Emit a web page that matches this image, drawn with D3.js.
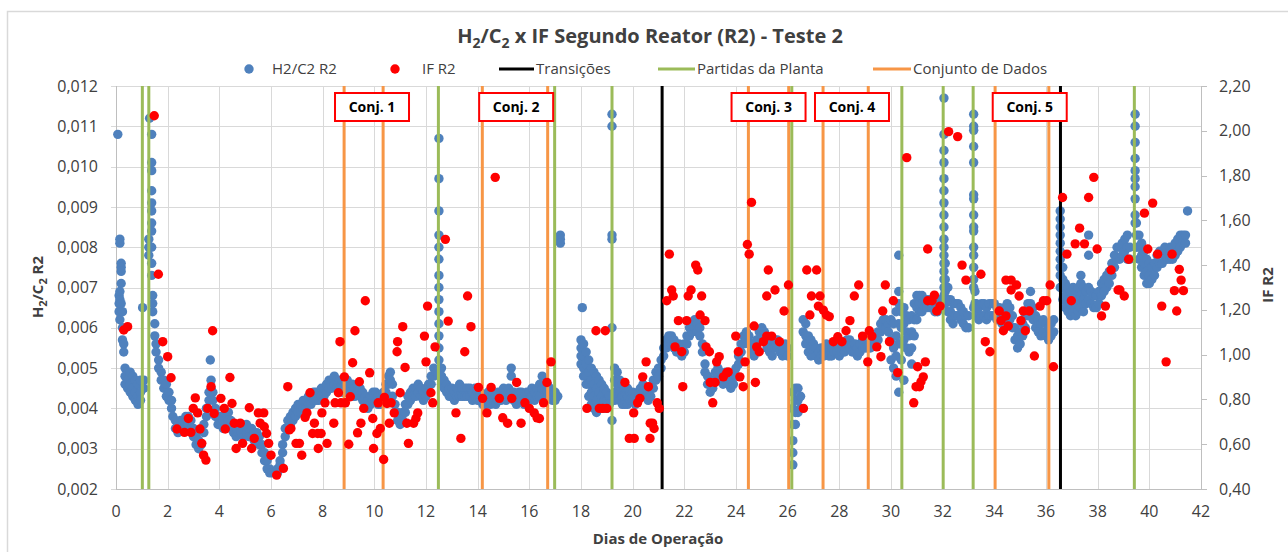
<!DOCTYPE html>
<html>
<head>
  <meta charset="utf-8">
  <script src="https://cdnjs.cloudflare.com/ajax/libs/d3/7.8.5/d3.min.js"></script>
  <style>
    body { margin: 0; background: #fff; }
    svg text { font-family: "Open Sans", "Noto Sans", sans-serif; fill: #404040; }
  </style>
</head>
<body>
  <svg></svg>
  <script>
    // H2/C2 readings, [day, value, value, ...] in units of 1e-3
    var h2c2Rows = [
      [0.07, 10.8], [0.12, 6.8, 6.6, 6.4], [0.15, 8.2, 8.1, 6.9, 6.7, 6.2], [0.2, 7.6, 7.5, 7.4, 7.1, 6.6],
      [0.25, 6.4, 6.0, 5.7], [0.3, 5.6, 5.4], [0.35, 5.0, 4.8, 4.6], [0.45, 4.9, 4.7, 4.5], [0.55, 4.9, 4.6, 4.4],
      [0.65, 4.8, 4.5, 4.3], [0.75, 4.7, 4.4, 4.2], [0.85, 4.6, 4.3, 4.1], [0.95, 4.7, 4.4, 4.2], [1.03, 6.5],
      [1.08, 4.7, 4.5], [1.27, 8.2, 8.0, 7.8], [1.3, 11.2],
      [1.38, 10.8, 10.1, 9.9, 9.4, 9.1, 8.9, 8.6, 8.4, 8.0, 7.6, 7.3], [1.42, 6.8, 6.6, 6.4], [1.5, 6.1, 5.8],
      [1.55, 5.6, 5.4], [1.65, 5.2, 5.0], [1.75, 4.9, 4.7], [1.85, 4.7, 4.5], [1.95, 4.6, 4.3], [2.05, 4.4, 4.2],
      [2.15, 4.2, 4.0], [2.2, 3.8], [2.3, 3.7, 3.5], [2.4, 3.6, 3.4], [2.5, 3.7, 3.5], [2.6, 3.7, 3.5],
      [2.7, 3.8, 3.6], [2.8, 3.8, 3.6], [2.9, 3.7, 3.5], [3.0, 3.5, 3.3], [3.1, 3.3, 3.1], [3.2, 3.2, 3.0],
      [3.3, 3.1], [3.4, 3.4, 3.6], [3.5, 3.8, 4.0], [3.6, 4.2, 4.4], [3.65, 5.2], [3.68, 4.7, 4.5],
      [3.75, 4.4, 4.2], [3.85, 4.0, 3.8], [3.95, 3.8, 3.6], [4.05, 3.8, 3.6], [4.15, 3.7, 3.5], [4.25, 3.9, 3.7],
      [4.35, 3.9, 3.7], [4.45, 3.7, 3.5], [4.55, 3.6, 3.4], [4.65, 3.5, 3.3], [4.75, 3.6, 3.4], [4.85, 3.6, 3.4],
      [4.95, 3.5, 3.3], [5.05, 3.6, 3.4], [5.15, 3.5, 3.3], [5.25, 3.5, 3.3], [5.35, 3.4, 3.2], [5.45, 3.4, 3.2],
      [5.55, 3.3, 3.1], [5.65, 3.1, 2.9], [5.75, 2.9, 2.7], [5.85, 2.7, 2.5], [5.95, 2.5, 2.4], [6.05, 2.4],
      [6.15, 2.4], [6.25, 2.5, 2.4], [6.35, 2.7, 2.6], [6.45, 3.1, 2.9], [6.55, 3.5, 3.3], [6.65, 3.7, 3.5],
      [6.75, 3.8, 3.6], [6.85, 3.9, 3.7], [6.95, 4.0, 3.8], [7.05, 4.1, 3.9], [7.15, 4.1, 3.9], [7.25, 4.2, 4.0],
      [7.35, 4.2, 4.0], [7.45, 4.3, 4.1], [7.55, 4.3, 4.1], [7.65, 4.4, 4.2], [7.75, 4.4, 4.2], [7.85, 4.4, 4.2],
      [7.95, 4.5, 4.3], [8.05, 4.5, 4.3], [8.15, 4.6, 4.4], [8.25, 4.7, 4.5], [8.35, 4.7, 4.5], [8.45, 4.8, 4.6],
      [8.55, 4.7, 4.5], [8.65, 4.7, 4.5], [8.75, 4.7, 4.4], [8.85, 4.6, 4.4], [8.95, 4.7, 4.4], [9.05, 4.6, 4.4],
      [9.15, 4.6, 4.3], [9.25, 4.5, 4.3], [9.35, 4.6, 4.4], [9.45, 4.5, 4.3], [9.55, 4.4, 4.2], [9.65, 4.3, 4.1],
      [9.75, 4.2, 4.0], [9.85, 4.3, 4.1], [9.95, 4.4, 4.2], [10.05, 4.4, 4.2], [10.15, 4.3, 4.1], [10.25, 4.3, 4.1],
      [10.35, 4.4, 4.2], [10.45, 4.6, 4.4], [10.55, 4.8, 4.6], [10.62, 4.9, 4.7], [10.7, 4.6, 4.3], [10.8, 4.1, 3.9],
      [10.9, 3.9, 3.7], [11.0, 3.8, 3.6], [11.1, 3.9, 3.7], [11.2, 4.1, 3.9], [11.3, 4.3, 4.1], [11.4, 4.4, 4.2],
      [11.5, 4.5, 4.3], [11.6, 4.5, 4.3], [11.7, 4.6, 4.4], [11.8, 4.5, 4.3], [11.9, 4.4, 4.2], [12.0, 4.5, 4.3],
      [12.1, 4.6, 4.4], [12.2, 4.8, 4.6], [12.3, 5.0, 4.8], [12.4, 4.9],
      [12.5, 10.7, 9.7, 8.9, 8.3, 8.0, 7.7, 7.3, 7.0, 6.7, 6.4, 6.1, 5.8, 5.5, 5.2], [12.6, 5.0, 4.8, 4.6],
      [12.7, 4.7, 4.5], [12.8, 4.6, 4.4], [12.9, 4.5, 4.3], [13.0, 4.5, 4.3], [13.1, 4.4, 4.2], [13.2, 4.5, 4.3],
      [13.3, 4.6, 4.3], [13.4, 4.5, 4.3], [13.5, 4.5, 4.3], [13.6, 4.5, 4.3], [13.7, 4.5, 4.3], [13.8, 4.4, 4.2],
      [13.9, 4.5, 4.3], [14.0, 4.4, 4.2], [14.1, 4.4, 4.2], [14.2, 4.3, 4.1], [14.3, 4.3, 4.1], [14.4, 4.4, 4.2],
      [14.5, 4.3, 4.1], [14.6, 4.4, 4.2], [14.7, 4.3, 4.1], [14.8, 4.4, 4.2], [14.9, 4.4, 4.2], [15.0, 4.5, 4.3],
      [15.1, 4.4, 4.2], [15.2, 4.5, 4.3], [15.3, 5.0, 4.8, 4.4], [15.4, 4.4, 4.2], [15.5, 4.3, 4.1], [15.6, 4.4, 4.2],
      [15.7, 4.4, 4.2], [15.8, 4.3, 4.1], [15.9, 4.4, 4.2], [16.0, 4.4, 4.2], [16.1, 4.5, 4.3], [16.2, 4.4, 4.2],
      [16.3, 4.5, 4.3], [16.4, 4.6, 4.3], [16.5, 4.8, 4.5], [16.6, 4.5, 4.3], [16.7, 4.6, 4.4], [16.8, 4.5, 4.3],
      [16.9, 4.4, 4.2], [17.0, 4.4, 4.2], [17.1, 4.3], [17.2, 8.3, 8.2, 8.1],
      [18.0, 5.7, 5.5, 5.3, 5.1], [18.05, 6.5], [18.1, 5.6, 5.3, 5.0, 4.8], [18.2, 5.4, 5.1, 4.8, 4.6],
      [18.3, 5.2, 4.9, 4.6, 4.3], [18.4, 5.0, 4.7, 4.4, 4.1], [18.5, 4.9, 4.6, 4.3, 4.0], [18.6, 4.8, 4.5, 4.2, 3.9],
      [18.7, 4.7, 4.4, 4.1], [18.8, 4.6, 4.3, 4.0], [18.9, 4.5, 4.2, 4.0], [19.0, 4.4, 4.2, 4.0], [19.1, 4.3, 4.1],
      [19.2, 11.3, 11.0, 8.3, 8.2, 6.0, 3.7], [19.3, 5.0, 4.7, 4.4, 4.2], [19.4, 4.9, 4.6, 4.3], [19.5, 4.7, 4.4, 4.2],
      [19.6, 4.6, 4.3, 4.1], [19.7, 4.5, 4.3, 4.1], [19.8, 4.5, 4.3, 4.1], [19.9, 4.4, 4.2], [20.0, 4.4, 4.2],
      [20.1, 4.3, 4.1], [20.2, 4.4, 4.2], [20.3, 4.5, 4.3], [20.4, 4.6, 4.4], [20.5, 4.5, 4.3], [20.6, 4.4, 4.2],
      [20.7, 4.5, 4.3], [20.8, 4.7, 4.5], [20.9, 4.9, 4.7], [21.0, 5.0, 4.8], [21.1, 5.2, 5.0], [21.2, 5.5, 5.3],
      [21.3, 5.7, 5.5], [21.4, 5.8, 5.6], [21.5, 5.8, 5.6], [21.6, 5.7, 5.5], [21.7, 5.6, 5.4], [21.8, 5.6, 5.4],
      [21.9, 5.5, 5.3], [22.0, 5.6, 5.4], [22.1, 5.8, 5.6], [22.2, 6.0, 5.8], [22.3, 6.1, 5.9], [22.4, 6.2, 6.0],
      [22.5, 6.1, 5.9], [22.6, 6.0, 5.8], [22.7, 5.6, 5.4], [22.8, 5.1, 4.9], [22.9, 4.8, 4.6], [23.0, 4.6, 4.4],
      [23.1, 4.7, 4.5], [23.2, 4.9, 4.7], [23.3, 5.0, 4.8], [23.4, 4.9, 4.7], [23.5, 4.8, 4.6], [23.6, 4.9, 4.7],
      [23.7, 4.8, 4.6], [23.8, 4.7, 4.5], [23.9, 4.8, 4.6], [24.0, 5.0, 4.8], [24.1, 5.3, 5.1], [24.2, 5.6, 5.4],
      [24.3, 5.8, 5.6], [24.4, 5.9, 5.7], [24.5, 5.8, 5.6], [24.6, 5.6, 5.4], [24.7, 5.5, 5.3], [24.8, 5.7, 5.5],
      [24.9, 5.9, 5.7], [25.0, 6.0, 5.8], [25.1, 5.9, 5.7], [25.2, 5.7, 5.5], [25.3, 5.6, 5.4], [25.4, 5.5, 5.3],
      [25.5, 5.7, 5.5], [25.6, 5.7, 5.5], [25.7, 5.6, 5.4], [25.8, 5.5, 5.3], [25.9, 5.6, 5.4], [26.0, 5.5, 5.3],
      [26.2, 4.4, 4.0, 3.6, 3.2, 2.9, 2.6], [26.3, 4.5, 4.2, 3.9, 3.6], [26.4, 4.5, 4.2, 3.9], [26.5, 4.3, 4.0],
      [26.6, 6.2, 5.9], [26.7, 6.1, 5.8, 5.6], [26.8, 5.8, 5.6, 5.4], [26.9, 5.7, 5.5, 5.3], [27.0, 5.6, 5.4],
      [27.1, 5.5, 5.3], [27.2, 5.4, 5.2], [27.3, 5.5, 5.3], [27.4, 5.5, 5.3], [27.5, 5.6, 5.4], [27.6, 5.5, 5.3],
      [27.7, 5.5, 5.3], [27.8, 5.6, 5.4], [27.9, 5.6, 5.4], [28.0, 5.5, 5.3], [28.1, 5.6, 5.4], [28.2, 5.6, 5.4],
      [28.3, 5.7, 5.5], [28.4, 5.7, 5.5], [28.5, 5.6, 5.4], [28.6, 5.6, 5.4], [28.7, 5.5, 5.3], [28.8, 5.6, 5.4],
      [28.9, 5.7, 5.5], [29.0, 5.7, 5.5], [29.1, 5.7, 5.5], [29.2, 5.7, 5.5], [29.3, 5.8, 5.6], [29.4, 5.8, 5.6],
      [29.5, 5.9, 5.7], [29.6, 6.1, 5.9], [29.7, 6.2, 6.0], [29.8, 6.2, 6.0], [29.9, 6.1, 5.9],
      [30.0, 6.2, 5.7, 5.2], [30.1, 6.1, 5.5, 5.0], [30.2, 6.4, 5.8, 5.3, 4.8], [30.3, 7.8, 6.9, 6.6, 6.1, 5.6, 4.4],
      [30.4, 6.4, 6.0, 5.6, 5.2], [30.5, 6.5, 6.1, 5.7, 4.7], [30.6, 6.3, 5.9, 5.5], [30.7, 6.2, 5.8, 5.4],
      [30.8, 6.3, 5.9, 5.5, 5.1], [30.9, 6.6, 6.2, 5.8], [31.0, 6.8, 6.5, 6.2], [31.1, 6.8, 6.6, 6.4],
      [31.2, 6.8, 6.6, 6.4], [31.3, 6.7, 6.5], [31.4, 6.7, 6.5], [31.5, 6.7, 6.5], [31.6, 6.7, 6.5],
      [31.7, 6.6, 6.4], [31.8, 6.6, 6.4], [31.9, 6.7, 6.5],
      [32.05, 11.7, 10.8, 10.4, 10.1, 9.7, 9.4, 9.1, 8.8, 8.5, 8.2, 8.0, 7.8, 7.6, 7.4, 7.2, 7.0, 6.8],
      [32.1, 7.6, 7.2, 6.9, 6.6], [32.2, 7.0, 6.7, 6.4], [32.3, 6.7, 6.4, 6.2], [32.4, 6.6, 6.3, 6.1],
      [32.5, 6.6, 6.3], [32.6, 6.6, 6.3], [32.7, 6.5, 6.2], [32.8, 6.4, 6.1], [32.9, 6.3, 6.0], [33.0, 6.3, 6.0],
      [33.2, 11.3, 11.0, 10.9, 10.5, 10.1, 9.3, 9.2, 8.8, 8.5, 8.4, 8.0, 7.8, 7.5, 7.2, 7.0, 6.5],
      [33.25, 6.9, 6.6, 6.3], [33.3, 6.6, 6.3], [33.4, 6.5, 6.2], [33.5, 6.6, 6.3], [33.6, 6.6, 6.3],
      [33.7, 6.5, 6.2], [33.8, 6.6, 6.3], [33.9, 6.6, 6.3], [34.0, 6.6, 6.3], [34.1, 6.5, 6.2], [34.2, 6.5, 6.2],
      [34.3, 6.4, 6.1], [34.4, 6.5, 6.2], [34.5, 6.6, 6.3], [34.6, 6.5, 6.2], [34.7, 6.3, 6.0], [34.8, 6.0, 5.7],
      [34.9, 5.8, 5.5], [35.0, 5.9, 5.6], [35.1, 6.1, 5.8], [35.2, 6.3, 6.0], [35.3, 6.6, 6.3], [35.4, 6.9, 6.6, 6.3],
      [35.5, 6.5, 6.2], [35.6, 6.3, 6.0], [35.7, 6.2, 5.9], [35.8, 6.1, 5.8], [35.9, 6.2, 5.9], [36.0, 6.1, 5.8],
      [36.1, 6.0, 5.7], [36.2, 6.1, 5.8], [36.3, 6.2, 5.9],
      [36.55, 8.9, 8.7, 8.5, 8.3, 8.1, 7.9, 7.7, 7.5, 7.3, 7.0], [36.65, 7.5, 7.2, 7.0, 6.7],
      [36.75, 7.1, 6.8, 6.5], [36.85, 7.0, 6.7, 6.4], [36.95, 6.9, 6.6, 6.3], [37.05, 7.0, 6.7, 6.4],
      [37.15, 6.9, 6.6, 6.3], [37.25, 7.0, 6.7, 6.4], [37.35, 7.3, 7.1, 6.8, 6.5], [37.45, 7.0, 6.7, 6.4],
      [37.55, 6.9, 6.6], [37.65, 8.3, 7.8, 7.0, 6.7], [37.75, 6.9, 6.6], [37.85, 6.8, 6.5], [37.95, 6.8, 6.5],
      [38.05, 6.9, 6.6], [38.15, 7.1, 6.8], [38.25, 7.2, 6.9], [38.35, 7.3, 7.0], [38.45, 7.4, 7.1],
      [38.55, 7.6, 7.3], [38.65, 7.8, 7.5], [38.75, 8.0, 7.7], [38.85, 8.0, 7.7], [38.95, 8.1, 7.8],
      [39.05, 8.2, 7.9], [39.15, 8.3, 8.0, 7.7], [39.25, 8.0, 7.7],
      [39.45, 11.3, 11.0, 10.6, 10.2, 9.9, 9.7, 9.5, 9.2, 8.8, 8.6], [39.5, 8.6, 8.3, 8.0],
      [39.6, 8.3, 8.0, 7.7], [39.7, 8.1, 7.8, 7.5], [39.8, 7.9, 7.6, 7.3], [39.9, 7.7, 7.4, 7.1],
      [40.0, 7.6, 7.3, 7.1], [40.1, 7.5, 7.2], [40.2, 7.6, 7.3], [40.3, 7.8, 7.5], [40.4, 7.9, 7.6],
      [40.5, 7.9, 7.6], [40.6, 8.0, 7.7], [40.7, 7.9, 7.7], [40.8, 8.0, 7.7], [40.9, 8.0, 7.7],
      [41.0, 8.1, 7.8], [41.1, 8.2, 7.9], [41.2, 8.3, 8.0], [41.3, 8.3, 8.1], [41.4, 8.3, 8.1], [41.48, 8.9]
    ];

    // IF R2 readings [day, IF]
    var ifRows = [
      [0.30, 1.11], [0.45, 1.125], [1.48, 2.067], [1.64, 1.359], [1.81, 1.058], [2.0, 0.991], [2.13, 0.897],
      [2.36, 0.668], [2.65, 0.653], [2.8, 0.715], [2.9, 0.653], [2.99, 0.76], [3.07, 0.807], [3.16, 0.74],
      [3.25, 0.668], [3.32, 0.604], [3.39, 0.551], [3.48, 0.529], [3.55, 0.76], [3.68, 0.857], [3.74, 1.107],
      [3.8, 0.737], [4.06, 0.805], [4.19, 0.76], [4.23, 0.668], [4.41, 0.898], [4.49, 0.782], [4.58, 0.694],
      [4.65, 0.581], [4.81, 0.694], [4.9, 0.604], [5.16, 0.763], [5.25, 0.581], [5.35, 0.626], [5.51, 0.74],
      [5.58, 0.694], [5.72, 0.74], [5.74, 0.678], [5.83, 0.648], [5.91, 0.604], [6.0, 0.551], [6.22, 0.462],
      [6.48, 0.492], [6.65, 0.857], [6.71, 0.664], [6.77, 0.67], [6.97, 0.604], [7.1, 0.604], [7.19, 0.551],
      [7.32, 0.72], [7.39, 0.74], [7.51, 0.83], [7.61, 0.648], [7.68, 0.694], [7.81, 0.648], [7.83, 0.581],
      [7.94, 0.648], [7.97, 0.74], [8.09, 0.785], [8.17, 0.604], [8.43, 0.694], [8.48, 0.785], [8.61, 0.83],
      [8.67, 1.058], [8.71, 0.785], [8.84, 0.901], [8.88, 0.785], [9.01, 0.6], [9.07, 0.812], [9.16, 0.964],
      [9.25, 1.107], [9.35, 0.651], [9.42, 0.879], [9.48, 0.694], [9.59, 0.76], [9.65, 1.241], [9.82, 0.919],
      [9.94, 0.715], [9.97, 0.581], [10.1, 0.648], [10.15, 0.785], [10.23, 0.67], [10.36, 0.532], [10.39, 0.809],
      [10.49, 0.782], [10.58, 0.694], [10.65, 0.785], [10.77, 0.74], [10.88, 1.013], [10.9, 1.058], [11.0, 0.83],
      [11.1, 1.125], [11.19, 0.943], [11.26, 0.694], [11.32, 0.604], [11.52, 0.694], [11.61, 0.715], [11.68, 0.74],
      [11.94, 1.083], [12.0, 0.968], [12.06, 1.217], [12.19, 0.83], [12.26, 0.785], [12.35, 1.035], [12.75, 1.515],
      [12.86, 1.15], [13.16, 0.74], [13.35, 0.626], [13.5, 1.013], [13.61, 1.262], [13.74, 1.125],
      [14.03, 0.854], [14.19, 0.805], [14.36, 0.74], [14.52, 0.854], [14.68, 1.792], [14.84, 0.805], [14.97, 0.718],
      [15.16, 0.694], [15.32, 0.805], [15.51, 0.876], [15.68, 0.694], [15.83, 0.785], [16.0, 0.76], [16.19, 0.74],
      [16.3, 0.718], [16.39, 0.715], [16.55, 0.785], [16.68, 0.876], [16.84, 0.968], [18.23, 0.76], [18.58, 1.107],
      [18.71, 0.76], [18.84, 0.76], [18.94, 1.107], [19.0, 0.76], [19.7, 0.876], [19.87, 0.626], [20.04, 0.74],
      [20.06, 0.626], [20.19, 0.785], [20.28, 0.805], [20.39, 0.901], [20.52, 0.968], [20.68, 0.694],
      [20.61, 0.857], [20.67, 0.626], [20.77, 0.694], [20.83, 0.67], [20.95, 0.785], [21.03, 0.76], [21.32, 1.241],
      [21.42, 1.449], [21.51, 1.289], [21.57, 1.262], [21.64, 1.035], [21.77, 1.152], [21.9, 1.013], [21.94, 0.857],
      [22.09, 1.152], [22.15, 1.262], [22.26, 1.289], [22.44, 1.4], [22.52, 1.378], [22.61, 1.177], [22.67, 1.262],
      [22.8, 1.152], [22.84, 1.035], [22.97, 1.013], [23.0, 0.876], [23.1, 0.785], [23.19, 0.876], [23.25, 0.968],
      [23.35, 0.991], [23.51, 0.901], [23.64, 0.919], [23.7, 0.923], [23.99, 1.083], [24.09, 1.013], [24.15, 0.901],
      [24.28, 0.857], [24.35, 0.968], [24.44, 1.492], [24.51, 1.449], [24.6, 1.68], [24.7, 1.128], [24.75, 0.876],
      [24.8, 1.035], [24.9, 1.013], [25.06, 1.058], [25.19, 1.083], [25.19, 1.262], [25.25, 1.378], [25.38, 1.083],
      [25.51, 1.289], [25.68, 1.058], [25.86, 1.195], [26.03, 1.311], [26.61, 0.76], [26.74, 1.378], [26.86, 1.177],
      [26.92, 1.262], [27.12, 1.378], [27.19, 1.217], [27.25, 1.262], [27.38, 1.199], [27.5, 1.177],
      [27.61, 1.17], [27.77, 1.058], [27.94, 1.08], [28.1, 1.058], [28.26, 1.107], [28.41, 1.152], [28.58, 1.262],
      [28.75, 1.311], [28.9, 1.083], [29.1, 0.968], [29.16, 1.107], [29.26, 1.083], [29.45, 1.035], [29.61, 0.991],
      [29.68, 1.195], [29.78, 1.311], [29.94, 1.058], [30.09, 1.241], [30.26, 0.92], [30.61, 1.88], [30.88, 0.785],
      [30.97, 0.857], [31.03, 0.946], [31.1, 0.857], [31.16, 0.879], [31.25, 0.901], [31.33, 0.968], [31.42, 1.472],
      [31.42, 1.241], [31.59, 1.241], [31.68, 1.266], [31.77, 1.195], [31.9, 1.217], [32.23, 1.996], [32.58, 1.974],
      [32.75, 1.4], [32.9, 1.333], [33.48, 1.359], [33.65, 1.058], [33.83, 1.013], [34.19, 1.195], [34.26, 1.152],
      [34.35, 1.107], [34.45, 1.333], [34.45, 1.173], [34.54, 1.128], [34.65, 1.333], [34.65, 1.289], [34.86, 1.311],
      [34.96, 1.262], [35.03, 1.152], [35.12, 1.195], [35.2, 1.107], [35.35, 1.195], [35.55, 0.994], [35.77, 1.217],
      [35.9, 1.241], [36.03, 1.241], [36.16, 1.311], [36.29, 0.946], [36.64, 1.702], [36.81, 1.449], [36.98, 1.241],
      [37.13, 1.495], [37.3, 1.565], [37.49, 1.495], [37.65, 1.702], [37.85, 1.792], [37.98, 1.472], [38.15, 1.173],
      [38.3, 1.217], [38.52, 1.378], [38.79, 1.289], [38.86, 1.289], [39.03, 1.262], [39.2, 1.426], [39.81, 1.632],
      [39.94, 1.472], [40.13, 1.677], [40.32, 1.449], [40.48, 1.217], [40.65, 0.968], [40.88, 1.449], [40.97, 1.286],
      [41.06, 1.195], [41.16, 1.381], [41.23, 1.333], [41.32, 1.286]
    ];

    // vertical marker lines (day)
    var transicoes = [21.14, 36.56];
    var partidas = [1.02, 1.27, 12.48, 16.98, 19.2, 26.16, 30.42, 32.02, 33.18, 39.42];
    var conjuntos = [8.83, 10.34, 14.18, 16.71, 24.48, 26.04, 27.37, 29.12, 34.03, 36.11];

    // data set labels and the day they sit over
    var conjLabels = ["Conj. 1", "Conj. 2", "Conj. 3", "Conj. 4", "Conj. 5"];
    var conjDays = [9.91, 15.49, 25.26, 28.49, 35.37];

    var xTicks = d3.range(0, 43, 2);
    var leftTicks = d3.range(0.002, 0.01201, 0.001);
    var rightTicks = d3.range(0.4, 2.201, 0.2);

    var W = 1288, H = 552;
    var svg = d3.select("svg").attr("width", W).attr("height", H);
    var pL = 116, pR = 1201, pT = 86, pB = 489;

    var x = d3.scaleLinear().domain([0, 42]).range([pL, pR]);
    var yL = d3.scaleLinear().domain([0.002, 0.012]).range([pB, pT]);
    var yR = d3.scaleLinear().domain([0.4, 2.2]).range([pB, pT]);

    var blue = "#4f81bd", red = "#ff0000";
    var cBlack = "#000000", cGreen = "#9bbb59", cOrange = "#f79646";
    var dotR = 4.7;

    // chart frame
    svg.append("rect").attr("x", 7.5).attr("y", 11.5).attr("width", W).attr("height", H)
      .attr("fill", "none").attr("stroke", "#d9d9d9").attr("stroke-width", 1.5);

    // grid
    svg.append("g").selectAll("line").data(leftTicks).enter().append("line")
      .attr("x1", pL - 5).attr("x2", pR)
      .attr("y1", function(d) { return Math.round(yL(d)) + 0.5; })
      .attr("y2", function(d) { return Math.round(yL(d)) + 0.5; })
      .attr("stroke", "#d9d9d9").attr("stroke-width", 1);
    svg.append("g").selectAll("line").data(xTicks.slice(1, -1)).enter().append("line")
      .attr("x1", function(d) { return Math.round(x(d)) + 0.5; })
      .attr("x2", function(d) { return Math.round(x(d)) + 0.5; })
      .attr("y1", pT).attr("y2", pB)
      .attr("stroke", "#d9d9d9").attr("stroke-width", 1);

    // axis lines
    svg.append("line").attr("x1", pL + 0.5).attr("x2", pL + 0.5).attr("y1", pT).attr("y2", pB)
      .attr("stroke", "#bfbfbf");
    svg.append("line").attr("x1", pR + 0.5).attr("x2", pR + 0.5).attr("y1", pT).attr("y2", pB)
      .attr("stroke", "#bfbfbf");
    svg.append("line").attr("x1", pL).attr("x2", pR).attr("y1", pB + 0.5).attr("y2", pB + 0.5)
      .attr("stroke", "#bfbfbf");
    svg.append("g").selectAll("line").data(rightTicks).enter().append("line")
      .attr("x1", pR).attr("x2", pR + 6)
      .attr("y1", function(d) { return Math.round(yR(d)) + 0.5; })
      .attr("y2", function(d) { return Math.round(yR(d)) + 0.5; })
      .attr("stroke", "#bfbfbf");

    // tick labels
    var comma = function(s) { return s.replace(".", ","); };
    svg.append("g").selectAll("text").data(leftTicks).enter().append("text")
      .attr("x", 98).attr("y", function(d) { return yL(d); }).attr("dy", "0.35em")
      .attr("text-anchor", "end").style("font-size", "16px")
      .text(function(d) { return comma(d3.format(".3f")(d)); });
    svg.append("g").selectAll("text").data(rightTicks).enter().append("text")
      .attr("x", 1219).attr("y", function(d) { return yR(d); }).attr("dy", "0.35em")
      .style("font-size", "16px")
      .text(function(d) { return comma(d3.format(".2f")(d)); });
    svg.append("g").selectAll("text").data(xTicks).enter().append("text")
      .attr("x", function(d) { return x(d); }).attr("y", 511).attr("dy", "0.35em")
      .attr("text-anchor", "middle").style("font-size", "16px")
      .text(function(d) { return d; });

    // axis titles
    svg.append("text").attr("x", 658).attr("y", 539).attr("dy", "0.35em").attr("text-anchor", "middle")
      .style("font-size", "15px").style("font-weight", "bold").text("Dias de Operação");
    var lt = svg.append("text").attr("transform", "translate(43,287) rotate(-90)")
      .attr("text-anchor", "middle").style("font-size", "15px").style("font-weight", "bold");
    lt.append("tspan").text("H");
    lt.append("tspan").attr("dy", 4).style("font-size", "11px").text("2");
    lt.append("tspan").attr("dy", -4).text("/C");
    lt.append("tspan").attr("dy", 4).style("font-size", "11px").text("2");
    lt.append("tspan").attr("dy", -4).text(" R2");
    svg.append("text").attr("transform", "translate(1273,285) rotate(-90)")
      .attr("text-anchor", "middle").style("font-size", "15px").style("font-weight", "bold").text("IF R2");

    // title
    var tt = svg.append("text").attr("x", 650).attr("y", 43).attr("text-anchor", "middle")
      .style("font-size", "20px").style("font-weight", "bold");
    tt.append("tspan").text("H");
    tt.append("tspan").attr("dy", 5).style("font-size", "14px").text("2");
    tt.append("tspan").attr("dy", -5).text("/C");
    tt.append("tspan").attr("dy", 5).style("font-size", "14px").text("2");
    tt.append("tspan").attr("dy", -5).text(" x IF Segundo Reator (R2) - Teste 2");

    // H2/C2 points
    var bluePts = [];
    h2c2Rows.forEach(function(r) {
      r.slice(1).forEach(function(v) { bluePts.push({ day: r[0], v: v / 1000 }); });
    });
    svg.append("g").selectAll("circle").data(bluePts).enter().append("circle")
      .attr("cx", function(d) { return x(d.day); })
      .attr("cy", function(d) { return yL(d.v); })
      .attr("r", dotR).attr("fill", blue);

    // vertical marker lines
    function vlines(days, color) {
      svg.append("g").selectAll("line").data(days).enter().append("line")
        .attr("x1", function(d) { return x(d); }).attr("x2", function(d) { return x(d); })
        .attr("y1", pT).attr("y2", pB)
        .attr("stroke", color).attr("stroke-width", 3);
    }
    vlines(conjuntos, cOrange);
    vlines(partidas, cGreen);
    vlines(transicoes, cBlack);

    // IF points (secondary axis, on top)
    svg.append("g").selectAll("circle").data(ifRows).enter().append("circle")
      .attr("cx", function(d) { return x(d[0]); })
      .attr("cy", function(d) { return yR(d[1]); })
      .attr("r", dotR).attr("fill", red);

    // Conj. boxes
    var boxes = svg.append("g").selectAll("g").data(conjLabels).enter().append("g")
      .attr("transform", function(d, i) { return "translate(" + x(conjDays[i]) + ",107)"; });
    boxes.append("rect").attr("x", -37).attr("y", -14).attr("width", 74).attr("height", 28)
      .attr("fill", "#fff").attr("stroke", red).attr("stroke-width", 2);
    boxes.append("text").attr("text-anchor", "middle").attr("dy", "0.35em")
      .style("font-size", "14px").style("font-weight", "bold").style("fill", "#000")
      .text(function(d) { return d; });

    // legend
    var lg = svg.append("g").attr("transform", "translate(0,69)");
    lg.append("circle").attr("cx", 249).attr("r", dotR).attr("fill", blue);
    lg.append("text").attr("x", 272).attr("dy", "0.35em").style("font-size", "15px").text("H2/C2 R2");
    lg.append("circle").attr("cx", 395).attr("r", dotR).attr("fill", red);
    lg.append("text").attr("x", 422).attr("dy", "0.35em").style("font-size", "15px").text("IF R2");
    var legLines = [[499, 534, cBlack, "Transições"], [658, 695, cGreen, "Partidas da Planta"],
                    [873, 911, cOrange, "Conjunto de Dados"]];
    legLines.forEach(function(l) {
      lg.append("line").attr("x1", l[0]).attr("x2", l[1]).attr("stroke", l[2]).attr("stroke-width", 3);
      lg.append("text").attr("x", l[1] + 2).attr("dy", "0.35em").style("font-size", "15px").text(l[3]);
    });
  </script>
</body>
</html>
